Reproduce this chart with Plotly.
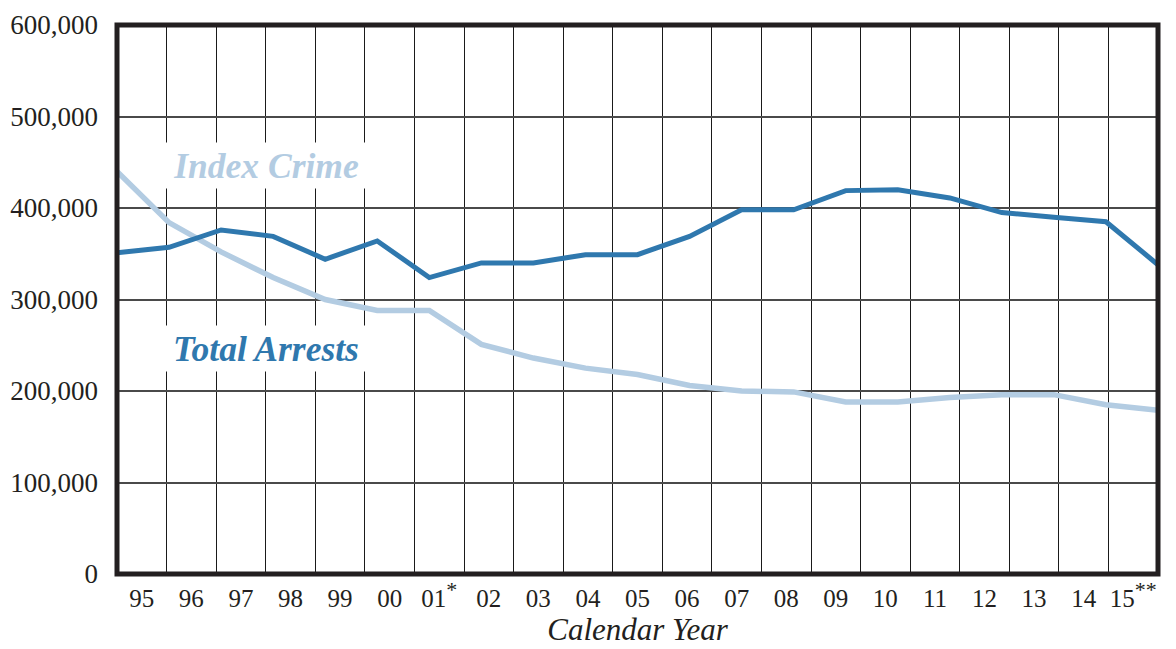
import plotly.graph_objects as go

years = ["95", "96", "97", "98", "99", "00",
         "01<sup><span style='font-size:22px'>*</span></sup>", "02", "03", "04", "05",
         "06", "07", "08", "09", "10", "11", "12", "13", "14",
         "15<sup><span style='font-size:22px'>**</span></sup>"]
total_arrests = [351000, 357000, 376000, 369000, 344000, 364000, 324000, 340000, 340000,
                 349000, 349000, 369000, 398000, 398000, 419000, 420000, 411000, 395000,
                 390000, 385000, 338000]
index_crime = [440000, 384000, 352000, 324000, 300000, 288000, 288000, 251000, 236000,
               225000, 218000, 206000, 200000, 199000, 188000, 188000, 193000, 196000,
               196000, 185000, 179000]
y_ticks = [0, 100000, 200000, 300000, 400000, 500000, 600000]
y_labels = ["0", "100,000", "200,000", "300,000", "400,000", "500,000", "600,000"]

FONT = "Liberation Serif"
INK = "#231f20"
DARK_BLUE = "#2f78ae"
LIGHT_BLUE = "#b3cce2"

idx = list(range(len(years)))
col_centers = [i + 0.5 for i in idx]

fig = go.Figure()
fig.add_trace(go.Scatter(x=idx, y=index_crime, mode="lines", name="Index Crime",
                         line=dict(color=LIGHT_BLUE, width=5.5), showlegend=False,
                         hoverinfo="skip"))
fig.add_trace(go.Scatter(x=idx, y=total_arrests, mode="lines", name="Total Arrests",
                         line=dict(color=DARK_BLUE, width=5), showlegend=False,
                         hoverinfo="skip"))
# invisible trace carrying the year categories on the column axis
fig.add_trace(go.Scatter(x=col_centers, y=[None] * len(years), xaxis="x2", mode="markers",
                         showlegend=False, hoverinfo="skip"))

fig.update_layout(
    width=1168, height=649,
    margin=dict(l=108.5, r=17.5, t=17, b=82.5),
    paper_bgcolor="white", plot_bgcolor="white",
    font=dict(family=FONT, color=INK),
    xaxis=dict(range=[0, len(years) - 1], showgrid=False, zeroline=False,
               showticklabels=False, ticks="", automargin=False),
    xaxis2=dict(range=[0, len(years)], overlaying="x", anchor="y", side="bottom",
                tickmode="array", tickvals=col_centers, ticktext=years,
                showgrid=False, zeroline=False, ticks="", ticklabelstandoff=7,
                automargin=False,
                tickfont=dict(family=FONT, size=25, color=INK),
                minor=dict(tick0=0, dtick=1, showgrid=True, gridcolor="#1a1a1a",
                           gridwidth=1.4, ticks=""),
                title=dict(text="<i>Calendar Year</i>", standoff=5,
                           font=dict(family=FONT, size=31, color=INK))),
    yaxis=dict(range=[0, 600000], tickmode="array", tickvals=y_ticks, ticktext=y_labels,
               showgrid=True, gridcolor="#4a4a4a", gridwidth=1.8, zeroline=False,
               ticks="", ticklabelstandoff=18, automargin=False,
               tickfont=dict(family=FONT, size=27, color=INK)),
)

fig.add_shape(type="rect", xref="paper", yref="paper", x0=0, x1=1, y0=0, y1=1,
              line=dict(color=INK, width=5), layer="above")

fig.add_annotation(x=3, y=447000, xref="x2", yref="y",
                   text="<b><i>Index Crime</i></b>", showarrow=False,
                   font=dict(family=FONT, size=35.5, color=LIGHT_BLUE),
                   bgcolor="white", width=206, height=43)
fig.add_annotation(x=3, y=247000, xref="x2", yref="y",
                   text="<b><i>Total Arrests</i></b>", showarrow=False,
                   font=dict(family=FONT, size=35.5, color=DARK_BLUE),
                   bgcolor="white", width=206, height=43)

fig.write_html("out.html")
